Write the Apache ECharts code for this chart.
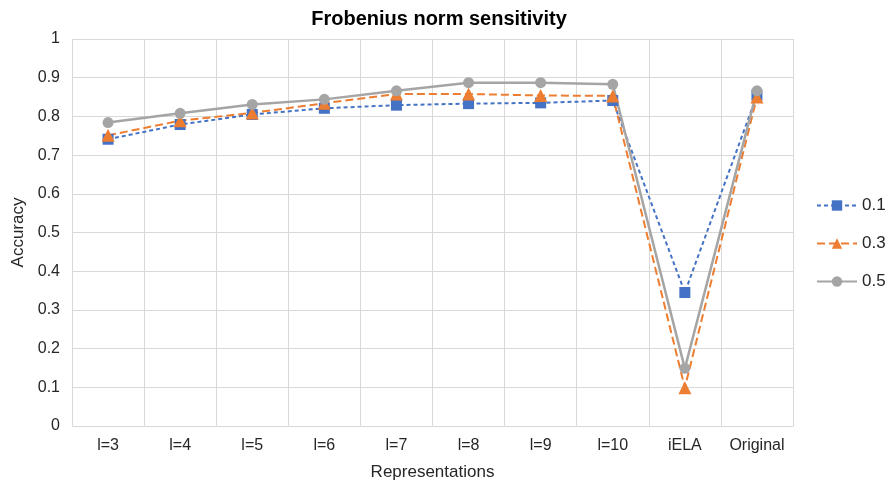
<!DOCTYPE html>
<html><head><meta charset="utf-8">
<script src="https://cdn.jsdelivr.net/npm/echarts@6/dist/echarts.min.js"></script>
<style>html,body{margin:0;padding:0;background:#fff}#c{width:890px;height:486px}</style>
</head><body><div id="c"></div>
<script>
var categories = ['l=3','l=4','l=5','l=6','l=7','l=8','l=9','l=10','iELA','Original'];
var s01 = [0.741,0.779,0.805,0.821,0.829,0.833,0.835,0.841,0.345,0.855];
var s03 = [0.751,0.789,0.809,0.834,0.858,0.858,0.854,0.853,0.099,0.850];
var s05 = [0.784,0.808,0.831,0.844,0.866,0.887,0.887,0.883,0.149,0.866];
var seriesNames = ['0.1','0.3','0.5'];
var font = 'Liberation Sans, Arial, sans-serif';
var tc = '#262626';
var chart = echarts.init(document.getElementById('c'));
chart.setOption({
  animation:false,
  title:{text:'Frobenius norm sensitivity',left:434,textAlign:'center',top:4,
    textStyle:{fontFamily:font,fontSize:20,fontWeight:'bold',color:'#000'}},
  grid:{left:72,right:97,top:39,bottom:60,containLabel:false,outerBoundsMode:'none'},
  legend:{orient:'vertical',left:811,top:192,itemGap:21,itemWidth:40,itemHeight:13,
    data:seriesNames,textStyle:{fontFamily:font,fontSize:17,color:tc}},
  xAxis:{type:'category',data:categories,boundaryGap:true,
    name:'Representations',nameLocation:'middle',nameGap:38,
    nameTextStyle:{fontFamily:font,fontSize:17,color:tc},
    axisLine:{lineStyle:{color:'#d9d9d9',width:1}},axisTick:{show:false},
    axisLabel:{fontFamily:font,fontSize:16,color:tc,margin:12,interval:0},
    splitLine:{show:true,lineStyle:{color:'#d9d9d9'}}},
  yAxis:{type:'value',min:0,max:1,interval:0.1,
    name:'Accuracy',nameLocation:'middle',nameGap:45,
    nameTextStyle:{fontFamily:font,fontSize:17,color:tc},
    axisLine:{show:false},axisTick:{show:false},
    axisLabel:{fontFamily:font,fontSize:16,color:tc,margin:12,
      formatter:function(v){return String(Math.round(v*10)/10);}},
    splitLine:{lineStyle:{color:'#d9d9d9'}}},
  series:[
    {name:seriesNames[0],type:'line',data:s01,symbol:'rect',symbolSize:11,
      itemStyle:{color:'#4472C4'},lineStyle:{color:'#4472C4',width:2,type:[4,3]}},
    {name:seriesNames[1],type:'line',data:s03,symbol:'triangle',symbolSize:13,
      itemStyle:{color:'#ED7D31'},lineStyle:{color:'#ED7D31',width:2,type:[8,4]}},
    {name:seriesNames[2],type:'line',data:s05,symbol:'circle',symbolSize:11,
      itemStyle:{color:'#A5A5A5'},lineStyle:{color:'#A5A5A5',width:2.5,type:'solid'}}
  ]
});
</script></body></html>
